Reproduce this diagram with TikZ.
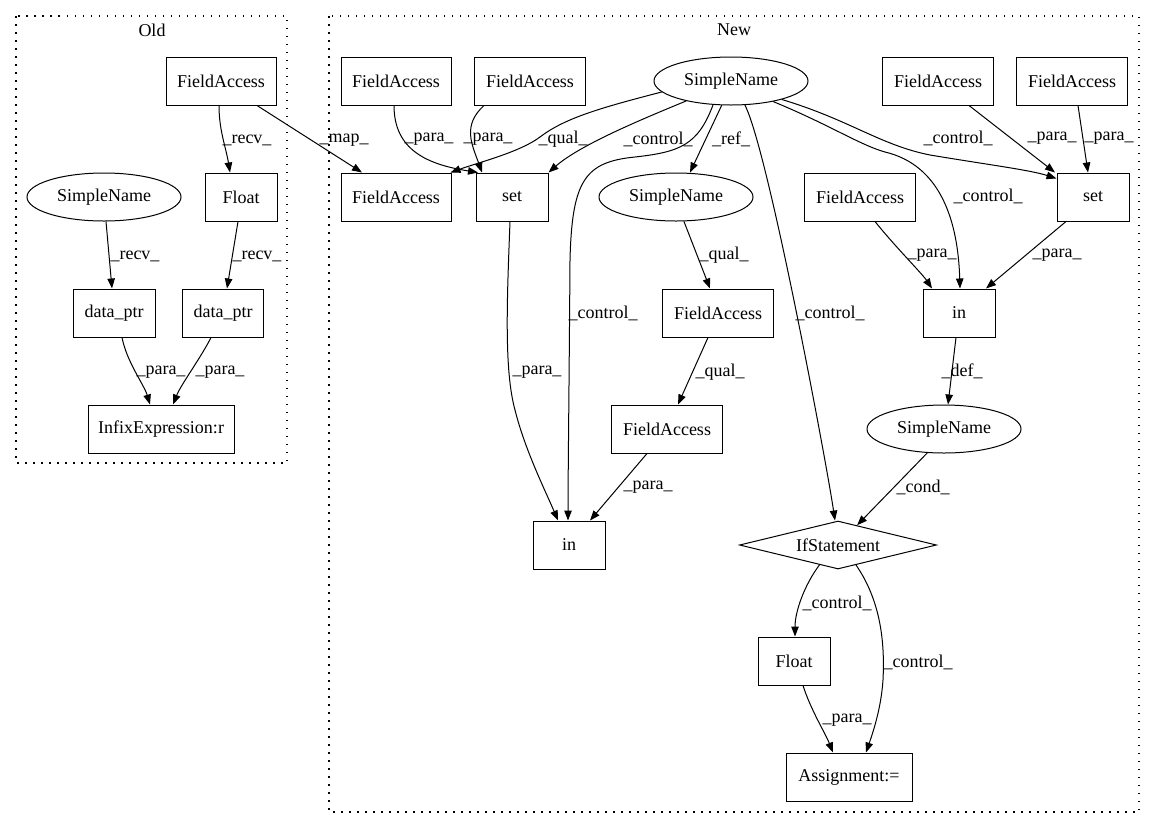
\documentclass[tikz,border=0pt]{standalone}
\usepackage{fontspec}
\setmainfont{Liberation Serif}
\usetikzlibrary{shapes.geometric,arrows.meta}
\begin{document}
\begin{tikzpicture}[x=1pt,y=-1pt, line width=1pt,
  >={Triangle[length=10pt,width=7.5pt]},
  font=\fontsize{18}{21}\selectfont,
  box/.style={draw, rectangle, minimum height=48pt, inner sep=0pt},
  ell/.style={draw, ellipse, minimum width=154pt, minimum height=48pt, inner sep=0pt},
  dia/.style={draw, diamond, aspect=4, minimum width=197pt, minimum height=48pt, inner sep=0pt},
  lbl/.style={inner sep=0pt},
  edge/.style={->},
  cluster/.style={draw, dash pattern=on 1.5pt off 6.5pt, line width=1.2pt}]
\useasboundingbox (0,0) rectangle (1156,828);
% clusters
\draw[cluster] (16,16) rectangle (287,463);
\draw[cluster] (329,16) rectangle (1139,812);
\node[lbl] (oldlbl) at (152,30) {Old};
\node[lbl] (newlbl) at (734,30) {New};
% Old nodes
\node[box, minimum width=110pt] (FAo) at (221,81) {FieldAccess};
\node[box, minimum width=72pt] (Flo) at (241,197) {Float};
\node[ell] (SNo) at (104,197) {SimpleName};
\node[box, minimum width=82pt] (dp1) at (114,313) {data\_ptr};
\node[box, minimum width=81pt] (dp2) at (223,313) {data\_ptr};
\node[box, minimum width=146pt] (inf) at (161,429) {InfixExpression:r};
% New nodes
\node[box, minimum width=110pt] (fa1) at (396,81) {FieldAccess};
\node[box, minimum width=111pt] (fa2) at (530,81) {FieldAccess};
\node[ell] (snT) at (731,81) {SimpleName};
\node[box, minimum width=111pt] (fa3) at (938,81) {FieldAccess};
\node[box, minimum width=111pt] (fa4) at (1072,81) {FieldAccess};
\node[box, minimum width=110pt] (faM) at (396,197) {FieldAccess};
\node[box, minimum width=72pt] (set1) at (512,197) {set};
\node[ell] (sn2) at (676,197) {SimpleName};
\node[box, minimum width=111pt] (fa5) at (860,197) {FieldAccess};
\node[box, minimum width=72pt] (set2) at (1093,197) {set};
\node[box, minimum width=111pt] (fa6) at (718,313) {FieldAccess};
\node[box, minimum width=72pt] (in1) at (959,313) {in};
\node[box, minimum width=111pt] (fa7) at (667,429) {FieldAccess};
\node[ell] (sn3) at (944,429) {SimpleName};
\node[box, minimum width=72pt] (in2) at (569,545) {in};
\node[dia] (if) at (838,545) {IfStatement};
\node[box, minimum width=72pt] (flN) at (794,661) {Float};
\node[box, minimum width=126pt] (asg) at (849,777) {Assignment:=};
% Old edges
\draw[edge] ([xshift=-2pt]FAo.south) .. controls +(0,25) and +(-4,-25) .. ([xshift=-11pt]Flo.north);
\draw[edge] ([xshift=36pt]FAo.south) -- ([xshift=-34pt]faM.north);
\draw[edge] ([xshift=2pt]SNo.south) -- ([xshift=-2pt]dp1.north);
\draw[edge] ([xshift=-3pt]Flo.south) -- ([xshift=4pt]dp2.north);
\draw[edge] ([xshift=8pt]dp1.south) .. controls +(5,25) and +(-6,-20) .. ([xshift=-11pt]inf.north);
\draw[edge] ([xshift=-12pt]dp2.south) .. controls +(-10,20) and +(8,-20) .. ([xshift=12pt]inf.north);
% New edges
\draw[edge] ([xshift=-2pt]fa1.south) .. controls +(0,45) and +(-50,-8) .. ([xshift=-34pt]set1.north);
\draw[edge] ([xshift=-46pt]fa2.south) .. controls +(-22,20) and +(-10,-28) .. ([xshift=-30pt]set1.north);
\draw[edge] (snT.189) .. controls (600,108) and (565,118) .. (540,137) .. controls (520,152) and (480,162) .. ([xshift=-1pt]faM.north east);
\draw[edge] (snT.204) .. controls (640,120) and (580,145) .. (set1.north east);
\draw[edge] (snT.233) .. controls (698,145) and (680,152) .. (635,157) .. controls (585,162) and (572,180) .. (570,260) .. controls (569,400) and (568,480) .. ([xshift=-1pt]in2.north);
\draw[edge] (snT.249) -- ([xshift=14pt]sn2.north);
\draw[edge] (snT.300) .. controls (768,150) and (826,460) .. ([xshift=-3pt]if.north);
\draw[edge] (snT.-26) .. controls (830,125) and (860,145) .. (885,152) .. controls (940,165) and (958,220) .. ([xshift=1pt]in1.north);
\draw[edge] (snT.-20) .. controls (850,120) and (880,145) .. (930,155) .. controls (990,165) and (1030,170) .. ([yshift=-6pt]set2.north west);
\draw[edge] ([xshift=31pt]fa3.south) -- ([xshift=-38pt]set2.north);
\draw[edge] ([xshift=6pt]fa4.south) -- ([xshift=-5pt]set2.north);
\draw[edge] ([xshift=15pt]fa5.south) .. controls +(20,25) and +(-10,-15) .. ([xshift=-27pt]in1.north);
\draw[edge] ([xshift=-27pt]set2.south) -- ([xshift=27pt]in1.north);
\draw[edge] (sn2.-72) -- ([xshift=-8pt]fa6.north);
\draw[edge] ([xshift=-10pt]fa6.south) -- ([xshift=11pt]fa7.north);
\draw[edge] ([xshift=-2pt]set1.south) .. controls (507,300) and (504,370) .. (515,410) .. controls (525,450) and (545,490) .. ([xshift=-11pt]in2.north);
\draw[edge] ([xshift=-20pt]fa7.south) -- ([xshift=21pt]in2.north);
\draw[edge] ([xshift=-3pt]in1.south) -- ([xshift=4pt]sn3.north);
\draw[edge] (sn3.235) -- (if.46);
\draw[edge] (if.-133) .. controls +(-15,20) and +(0,-25) .. ([xshift=1pt]flN.north);
\draw[edge] (if.-48) .. controls (880,600) and (885,640) .. (883,680) .. controls (881,710) and (872,735) .. ([xshift=17pt]asg.north);
\draw[edge] ([xshift=9pt]flN.south) .. controls +(8,25) and +(-8,-20) .. ([xshift=-16pt]asg.north);
% edge labels
\node[lbl] (l1) at (247,140) {\_recv\_};
\node[lbl] (l2) at (344,140) {\_map\_};
\node[lbl] (l3) at (135,256) {\_recv\_};
\node[lbl] (l4) at (257,256) {\_recv\_};
\node[lbl] (l5) at (161,372) {\_para\_};
\node[lbl] (l6) at (220,372) {\_para\_};
\node[lbl] (l7) at (429,139) {\_para\_};
\node[lbl] (l8) at (488,139) {\_para\_};
\node[lbl] (l9) at (563,139) {\_qual\_};
\node[lbl] (l10) at (658,139) {\_control\_};
\node[lbl] (l11) at (731,139) {\_ref\_};
\node[lbl] (l12) at (724,255) {\_qual\_};
\node[lbl] (l13) at (603,313) {\_control\_};
\node[lbl] (l14) at (537,372) {\_para\_};
\node[lbl] (l15) at (720,372) {\_qual\_};
\node[lbl] (l16) at (648,487) {\_para\_};
\node[lbl] (l17) at (830,313) {\_control\_};
\node[lbl] (l18) at (988,196) {\_control\_};
\node[lbl] (l19) at (958,138) {\_control\_};
\node[lbl] (l20) at (1052,138) {\_para\_};
\node[lbl] (l21) at (1109,138) {\_para\_};
\node[lbl] (l22) at (932,255) {\_para\_};
\node[lbl] (l23) at (1057,255) {\_para\_};
\node[lbl] (l24) at (962,371) {\_def\_};
\node[lbl] (l25) at (923,487) {\_cond\_};
\node[lbl] (l26) at (837,603) {\_control\_};
\node[lbl] (l27) at (918,662) {\_control\_};
\node[lbl] (l28) at (847,720) {\_para\_};
\end{tikzpicture}
\end{document}
